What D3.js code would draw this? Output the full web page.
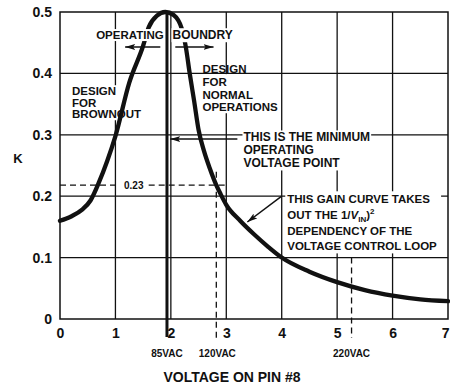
<!DOCTYPE html>
<html><head><meta charset="utf-8">
<script src="https://cdn.jsdelivr.net/npm/d3@7"></script>
<style>
html,body{margin:0;padding:0;background:#fff;}
svg{display:block;}
text{font-family:"Liberation Sans",Arial,sans-serif;font-weight:bold;fill:#111;}
</style></head>
<body>
<script>
// ---- data ----
const voltage = [0, 0.2, 0.4, 0.55, 0.7, 0.85, 1.0, 1.25, 1.5, 1.6, 1.75, 1.9, 2.05, 2.2, 2.27, 2.34, 2.42, 2.5, 2.6, 2.7, 2.82, 2.9, 3.0, 3.25, 3.5, 3.75, 4.0, 4.5, 5.0, 5.5, 6.0, 6.5, 7.0];
const gainK   = [0.16, 0.167, 0.178, 0.193, 0.222, 0.257, 0.298, 0.385, 0.445, 0.475, 0.494, 0.5, 0.495, 0.472, 0.443, 0.40, 0.355, 0.308, 0.273, 0.246, 0.218, 0.203, 0.186, 0.16, 0.138, 0.118, 0.1, 0.077, 0.06, 0.047, 0.038, 0.032, 0.029];
const xTicks = [0, 1, 2, 3, 4, 5, 6, 7];
const yTicks = [0, 0.1, 0.2, 0.3, 0.4, 0.5];
const yTickLabels = ["0", "0.1", "0.2", "0.3", "0.4", "0.5"];
const vacLabels = ["85VAC", "120VAC", "220VAC"];
const vacVoltage = [1.93, 2.82, 5.26];
const refK = 0.218;
const refKLabel = "0.23";
const xTitle = "VOLTAGE ON PIN #8";
const yTitle = "K";

// ---- layout ----
const W = 450, H = 385;
const m = {l: 60, t: 12, r: 2, b: 66};
const x = d3.scaleLinear().domain([0, 7]).range([m.l, W - m.r]);
const y = d3.scaleLinear().domain([0, 0.5]).range([H - m.b, m.t]);
const ink = "#111";

const svg = d3.select("body").append("svg").attr("width", W).attr("height", H);
const defs = svg.append("defs");
defs.append("marker").attr("id", "ah").attr("viewBox", "0 0 10 6")
  .attr("refX", 10).attr("refY", 3).attr("markerWidth", 10).attr("markerHeight", 6)
  .attr("markerUnits", "userSpaceOnUse").attr("orient", "auto")
  .append("path").attr("d", "M0,0 L10,3 L0,6 L2,3 Z").attr("fill", ink);

// gridlines
const grid = svg.append("g").attr("stroke", ink).attr("stroke-width", 1.3);
grid.selectAll("line.v").data(xTicks.slice(1, -1)).join("line")
  .attr("x1", d => x(d)).attr("x2", d => x(d)).attr("y1", y(0.5)).attr("y2", y(0));
grid.selectAll("line.h").data(yTicks.slice(1, -1)).join("line")
  .attr("y1", d => y(d)).attr("y2", d => y(d)).attr("x1", x(0)).attr("x2", x(7));
svg.append("rect").attr("x", x(0)).attr("y", y(0.5)).attr("width", x(7) - x(0)).attr("height", y(0) - y(0.5))
  .attr("fill", "none").attr("stroke", ink).attr("stroke-width", 1.5);

// axes (labels only, via d3 axes)
const xAxis = svg.append("g").attr("transform", `translate(0,${y(0)})`)
  .call(d3.axisBottom(x).tickValues(xTicks).tickFormat(d3.format("d")).tickSize(0).tickPadding(9));
xAxis.select(".domain").remove();
xAxis.selectAll("text").attr("font-size", 14).attr("font-family", "Liberation Sans").attr("font-weight", "bold").attr("fill", ink);
xAxis.selectAll(".tick").filter(d => d === 7).select("text").attr("text-anchor", "end").attr("dx", "1");
const yAxis = svg.append("g").attr("transform", `translate(${x(0)},0)`)
  .call(d3.axisLeft(y).tickValues(yTicks).tickFormat((d, i) => yTickLabels[i]).tickSize(0).tickPadding(8));
yAxis.select(".domain").remove();
yAxis.selectAll("text").attr("font-size", 14).attr("font-family", "Liberation Sans").attr("font-weight", "bold").attr("fill", ink);

svg.append("text").attr("x", 18).attr("y", y(0.262)).attr("dy", "0.35em").attr("text-anchor", "middle")
  .attr("font-size", 13).text(yTitle);
svg.append("text").attr("x", 232).attr("y", 382).attr("text-anchor", "middle")
  .attr("font-size", 14).text(xTitle);

// helper for text blocks with white background
function block(xv, kv, lines, size, gap, anchor, trimTop) {
  const g = svg.append("g");
  const bg = g.append("rect").attr("fill", "#fff");
  const t = g.append("text").attr("font-size", size).attr("text-anchor", anchor || "start");
  lines.forEach((ln, i) => {
    t.append("tspan").attr("x", x(xv)).attr("y", y(kv) + i * gap).attr("dy", "0.35em").text(ln);
  });
  const b = t.node().getBBox();
  const tt = trimTop || 0;
  bg.attr("x", b.x - 1).attr("y", b.y + tt).attr("width", b.width + 2).attr("height", b.height - tt);
  return g;
}

block(0.217, 0.371, ["DESIGN", "FOR", "BROWNOUT"], 11.5, 11.5);
block(2.57, 0.407, ["DESIGN", "FOR", "NORMAL", "OPERATIONS"], 11.5, 12.7, "start", 11);
block(3.31, 0.296, ["THIS IS THE MINIMUM", "OPERATING", "VOLTAGE POINT"], 12, 13);

// gain curve text block
{
  const g = svg.append("g");
  const bg = g.append("rect").attr("fill", "#fff");
  const size = 11.5, gap = 15.7, x0 = x(4.1), y0 = y(0.195);
  g.append("text").attr("font-size", size).attr("x", x0).attr("y", y0).attr("dy", "0.35em").text("THIS GAIN CURVE TAKES");
  const l2 = g.append("text").attr("font-size", size).attr("x", x0).attr("y", y0 + gap).attr("dy", "0.35em");
  l2.append("tspan").text("OUT THE 1/");
  l2.append("tspan").attr("font-style", "italic").text("V");
  l2.append("tspan").attr("font-size", 8).attr("dy", 3).text("IN");
  l2.append("tspan").attr("dy", -3).text(")");
  l2.append("tspan").attr("font-size", 8).attr("dy", -5).text("2");
  g.append("text").attr("font-size", size).attr("x", x0).attr("y", y0 + 2 * gap).attr("dy", "0.35em").text("DEPENDENCY OF THE");
  g.append("text").attr("font-size", size).attr("x", x0).attr("y", y0 + 3 * gap).attr("dy", "0.35em").text("VOLTAGE CONTROL LOOP");
  const b = g.node().getBBox();
  bg.attr("x", b.x - 2).attr("y", b.y - 2).attr("width", b.width + 6).attr("height", b.height + 3);
}

// dashed reference lines
const dash = svg.append("g").attr("stroke", ink).attr("stroke-width", 1.3).attr("stroke-dasharray", "6,4").attr("fill", "none");
dash.append("line").attr("x1", x(0)).attr("x2", x(1.07)).attr("y1", y(refK)).attr("y2", y(refK));
dash.append("line").attr("x1", x(1.6)).attr("x2", x(3.0)).attr("y1", y(refK)).attr("y2", y(refK));
dash.append("line").attr("x1", x(vacVoltage[1])).attr("x2", x(vacVoltage[1])).attr("y1", y(0.24)).attr("y2", y(0) + 21);
dash.append("line").attr("x1", x(vacVoltage[2])).attr("x2", x(vacVoltage[2])).attr("y1", y(0.1)).attr("y2", y(0) + 19);
svg.append("text").attr("x", x(1.33)).attr("y", y(refK)).attr("dy", "0.35em").attr("text-anchor", "middle")
  .attr("font-size", 10).text(refKLabel);

// thick vertical line at 85VAC
svg.append("line").attr("x1", x(vacVoltage[0])).attr("x2", x(vacVoltage[0]))
  .attr("y1", y(0.5)).attr("y2", y(0) + 18).attr("stroke", ink).attr("stroke-width", 3);

// VAC labels
svg.selectAll("text.vac").data(vacLabels).join("text").attr("class", "vac")
  .attr("x", (d, i) => x(vacVoltage[i]) + (i === 1 ? 1 : 0)).attr("y", 357).attr("text-anchor", "middle")
  .attr("font-size", 10).text(d => d);

// curve
const pts = voltage.map((v, i) => [v, gainK[i]]);
svg.append("path").datum(pts)
  .attr("d", d3.line().x(d => x(d[0])).y(d => y(d[1])).curve(d3.curveMonotoneX))
  .attr("fill", "none").attr("stroke", ink).attr("stroke-width", 4.3).attr("stroke-linecap", "round");

// arrows
const arr = svg.append("g").attr("stroke", ink).attr("stroke-width", 1.5).attr("marker-end", "url(#ah)");
arr.append("line").attr("x1", x(1.81)).attr("y1", y(0.443)).attr("x2", x(1.175)).attr("y2", y(0.443));
arr.append("line").attr("x1", x(2.08)).attr("y1", y(0.443)).attr("x2", x(2.77)).attr("y2", y(0.443));
arr.append("line").attr("x1", x(3.2)).attr("y1", y(0.293)).attr("x2", x(1.99)).attr("y2", y(0.293));
arr.append("line").attr("x1", x(4.0)).attr("y1", y(0.2)).attr("x2", x(3.38)).attr("y2", y(0.158));

// OPERATING BOUNDRY on top (words separately so the 85VAC line shows in the gap)
block(1.87, 0.4625, ["OPERATING"], 11.5, 0, "end");
block(2.03, 0.4625, ["BOUNDRY"], 12, 0, "start");
</script>
</body></html>
